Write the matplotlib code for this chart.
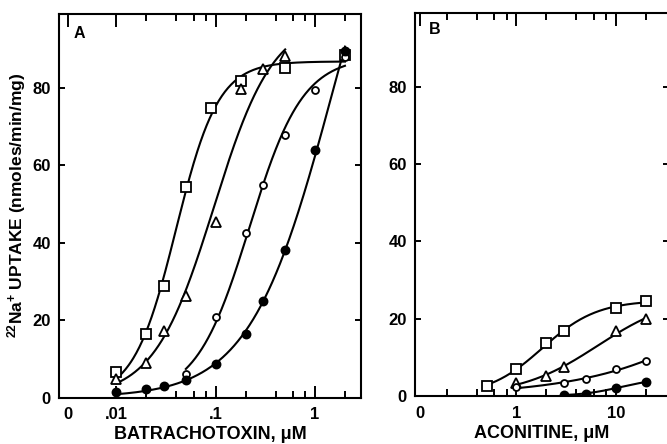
import matplotlib
matplotlib.use("Agg")
import matplotlib.pyplot as plt
import numpy as np

plt.rcParams["font.family"] = ["Liberation Sans", "DejaVu Sans"]
plt.rcParams["font.weight"] = "bold"
plt.rcParams["mathtext.fontset"] = "custom"
plt.rcParams["mathtext.rm"] = "Liberation Sans:bold"
plt.rcParams["mathtext.default"] = "rm"

# panel A: batrachotoxin (uM) vs uptake
btx_sq_x = [0.01, 0.02, 0.03, 0.05, 0.09, 0.18, 0.5, 2.0]
btx_sq_y = [6.6, 16.5, 28.8, 54.4, 74.8, 81.7, 85.0, 88.5]
btx_tri_x = [0.01, 0.02, 0.03, 0.05, 0.1, 0.18, 0.3, 0.5]
btx_tri_y = [4.9, 8.8, 17.1, 26.2, 45.4, 79.7, 84.9, 88.1]
btx_open_x = [0.05, 0.1, 0.2, 0.3, 0.5, 1.0, 2.0]
btx_open_y = [6.0, 20.9, 42.4, 54.8, 67.7, 79.4, 88.0]
btx_fill_x = [0.01, 0.02, 0.03, 0.05, 0.1, 0.2, 0.3, 0.5, 1.0, 2.0]
btx_fill_y = [1.5, 2.2, 2.9, 4.6, 8.6, 16.5, 24.8, 38.2, 63.8, 89.5]

# panel B: aconitine (uM) vs uptake
aco_sq_x = [0.5, 1.0, 2.0, 3.0, 10.0, 20.0]
aco_sq_y = [2.6, 7.1, 13.6, 16.8, 22.8, 24.5]
aco_tri_x = [1.0, 2.0, 3.0, 10.0, 20.0]
aco_tri_y = [3.4, 5.1, 7.4, 16.8, 19.8]
aco_open_x = [1.0, 3.0, 5.0, 10.0, 20.0]
aco_open_y = [2.3, 3.4, 4.3, 7.0, 9.1]
aco_fill_x = [3.0, 5.0, 10.0, 20.0]
aco_fill_y = [0.3, 0.6, 2.1, 3.6]

y_ticks = [0, 20, 40, 60, 80]


def hill_fit(x, y, num=300):
    # weighted least squares fit of y = top / (1 + (ec50/x)^n)
    lx = np.log10(np.asarray(x, float))
    y = np.asarray(y, float)
    w = 1.0 / (y + 5.0)
    lec = np.linspace(-3, 3, 301)[:, None, None]
    n = np.linspace(0.5, 2.2, 86)[None, :, None]
    f = 1.0 / (1.0 + 10 ** (n * (lec - lx)))
    top = (w * f * y).sum(-1) / (w * f * f).sum(-1)
    # the curve should end near the last point, not overshoot it
    top = np.clip(np.minimum(top, 1.02 * y[-1] / f[..., -1]), 0.0, None)
    err = (w * (top[..., None] * f - y) ** 2).sum(-1)
    i, j = np.unravel_index(np.argmin(err), err.shape)
    xs = np.logspace(lx.min(), lx.max(), num)
    ys = top[i, j] / (1.0 + 10 ** (n[0, j, 0] * (lec[i, 0, 0] - np.log10(xs))))
    return xs, ys


MARKERS = [
    ("s", 7.5, "white"),
    ("^", 7.5, "white"),
    ("o", 5.0, "white"),
    ("o", 5.8, "black"),
]


def draw_panel(ax, series, xlim, major, minor, zero_pos, major_labels, xlabel,
               letter, letter_pos):
    for (x, y), (mk, ms, fc) in zip(series, MARKERS):
        cx, cy = hill_fit(x, y)
        ax.plot(cx, cy, color="black", lw=1.5, zorder=2)
        ax.plot(x, y, ls="none", marker=mk, ms=ms, mfc=fc, mec="black", mew=1.3, zorder=3)

    ax.set_xscale("log")
    ax.set_xlim(*xlim)
    ax.set_ylim(0, 99)
    ax.set_xticks([zero_pos] + major, ["0"] + major_labels)
    ax.set_xticks(minor, minor=True)
    ax.xaxis.set_minor_formatter(plt.NullFormatter())
    zero_tick = ax.xaxis.get_major_ticks()[0]
    zero_tick.tick1line.set_visible(False)
    zero_tick.tick2line.set_visible(False)
    ax.set_yticks(y_ticks)

    ax.tick_params(axis="both", which="both", direction="in", top=True, right=True,
                   width=1.4, labelsize=12)
    ax.tick_params(axis="x", which="major", length=9, pad=7)
    ax.tick_params(axis="x", which="minor", length=5)
    ax.tick_params(axis="y", which="major", length=4.5, pad=6)
    for s in ax.spines.values():
        s.set_linewidth(1.5)

    ax.set_xlabel(xlabel, fontsize=13, fontweight="bold", labelpad=3)
    ax.text(*letter_pos, letter, transform=ax.transAxes, fontsize=11.5,
            fontweight="bold", ha="center", va="center")


fig = plt.figure(figsize=(6.67, 4.44), dpi=100)
ax_a = fig.add_axes([0.0885, 0.1047, 0.4528, 0.8637])
ax_b = fig.add_axes([0.6222, 0.1081, 0.3808, 0.8626])

draw_panel(
    ax_a,
    [(btx_sq_x, btx_sq_y), (btx_tri_x, btx_tri_y),
     (btx_open_x, btx_open_y), (btx_fill_x, btx_fill_y)],
    (10 ** -2.578, 10 ** 0.463),
    [0.01, 0.1, 1],
    [0.02, 0.04, 0.06, 0.08, 0.2, 0.4, 0.6, 0.8, 2],
    10 ** -2.487,
    [".01", ".1", "1"],
    "BATRACHOTOXIN, \u03bcM",
    "A",
    (0.066, 0.95),
)
draw_panel(
    ax_b,
    [(aco_sq_x, aco_sq_y), (aco_tri_x, aco_tri_y),
     (aco_open_x, aco_open_y), (aco_fill_x, aco_fill_y)],
    (10 ** -1.02, 10 ** 1.533),
    [1, 10],
    [0.2, 0.4, 0.6, 0.8, 2, 4, 6, 8, 20],
    10 ** -0.97,
    ["1", "10"],
    "ACONITINE, \u03bcM",
    "B",
    (0.079, 0.956),
)

ax_a.set_ylabel("$^{22}$Na$^{+}$ UPTAKE (nmoles/min/mg)", fontsize=12.5,
                fontweight="bold", labelpad=3)

fig.savefig("out.png", dpi=100)
